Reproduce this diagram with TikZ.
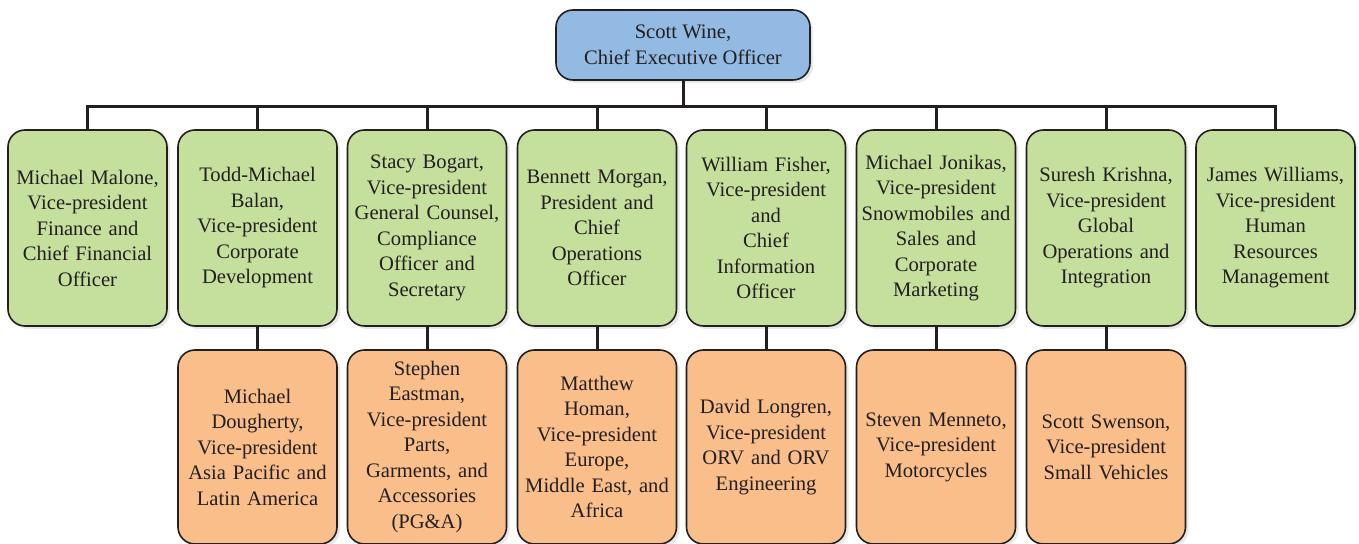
\documentclass[tikz,border=0pt]{standalone}
\usepackage{fontspec}
\setmainfont{Liberation Serif}
\usetikzlibrary{shadows}
\definecolor{ceoblue}{RGB}{147,186,226}
\definecolor{vpgreen}{RGB}{197,223,157}
\definecolor{vporange}{RGB}{249,190,137}
\definecolor{inkgray}{RGB}{35,31,32}
\begin{document}
\begin{tikzpicture}[x=.5pt,y=-.5pt,
  box/.style={draw=inkgray,line width=.8pt,rounded corners=8.5pt,text=inkgray,align=center,
    inner sep=0pt,font=\fontsize{10.3}{12.75}\selectfont,
    drop shadow={opacity=.18,shadow xshift=1.5pt,shadow yshift=-1.5pt}},
  ceobox/.style={box,fill=ceoblue,minimum width=127pt,minimum height=35pt},
  vpbox/.style={box,fill=vpgreen,text width=78pt,minimum width=79.5pt,minimum height=98pt},
  subbox/.style={box,fill=vporange,text width=78pt,minimum width=79.5pt,minimum height=97pt},
  conn/.style={line width=1.5pt,inkgray}]
\useasboundingbox(0,0)rectangle(1359,544);
% chief executive
\node[ceobox](ceo)at(683,45){Scott Wine,\\Chief Executive Officer};
% vice-presidents
\node[vpbox](malone)at(87.5,228){Michael Malone,\\Vice-president\\Finance and\\Chief Financial\\Officer};
\node[vpbox](balan)at(257.5,228){Todd-Michael\\Balan,\\Vice-president\\Corporate\\Development};
\node[vpbox](bogart)at(427,228){Stacy Bogart,\\Vice-president\\General Counsel,\\Compliance\\Officer and\\Secretary};
\node[vpbox](morgan)at(597,228){Bennett Morgan,\\President and\\Chief\\Operations\\Officer};
\node[vpbox](fisher)at(766,228){William Fisher,\\Vice-president\\and\\Chief\\Information\\Officer};
\node[vpbox](jonikas)at(936,228){Michael Jonikas,\\Vice-president\\Snowmobiles and\\Sales and\\Corporate\\Marketing};
\node[vpbox](krishna)at(1106,228){Suresh Krishna,\\Vice-president\\Global\\Operations and\\Integration};
\node[vpbox](williams)at(1275.5,228){James Williams,\\Vice-president\\Human\\Resources\\Management};
% second level
\node[subbox](dougherty)at(257.5,447){Michael\\Dougherty,\\Vice-president\\Asia Pacific and\\Latin America};
\node[subbox](eastman)at(427,447){Stephen\\Eastman,\\Vice-president\\Parts,\\Garments, and\\Accessories\\(PG\&A)};
\node[subbox](homan)at(597,447){Matthew\\Homan,\\Vice-president\\Europe,\\Middle East, and\\Africa};
\node[subbox](longren)at(766,447){David Longren,\\Vice-president\\ORV and ORV\\Engineering};
\node[subbox](menneto)at(936,447){Steven Menneto,\\Vice-president\\Motorcycles};
\node[subbox](swenson)at(1106,447){Scott Swenson,\\Vice-president\\Small Vehicles};
% connectors
\coordinate(busR)at(1275.5,107);
\draw[conn](ceo.south)--(ceo.south|-busR);
\draw[conn](malone.north)|-(busR)--(williams.north);
\foreach\n in{balan,bogart,morgan,fisher,jonikas,krishna}
  \draw[conn](\n.north)--(\n.north|-busR);
\draw[conn](balan.south)--(dougherty.north);
\draw[conn](bogart.south)--(eastman.north);
\draw[conn](morgan.south)--(homan.north);
\draw[conn](fisher.south)--(longren.north);
\draw[conn](jonikas.south)--(menneto.north);
\draw[conn](krishna.south)--(swenson.north);
\end{tikzpicture}
\end{document}
